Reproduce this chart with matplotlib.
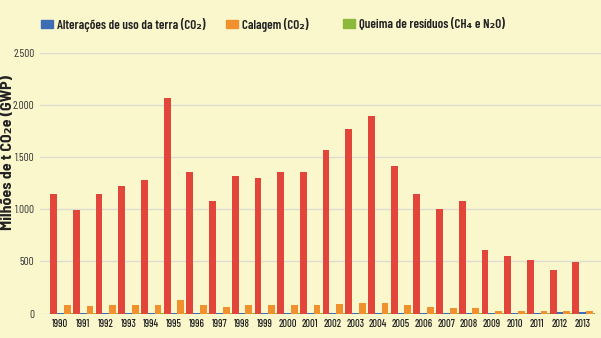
import matplotlib
matplotlib.use("Agg")
import matplotlib.pyplot as plt
from matplotlib.patches import Patch
import numpy as np

years = [str(y) for y in range(1990, 2014)]
# series (million t CO2e)
total = [1150, 995, 1150, 1220, 1280, 2070, 1355, 1075, 1315, 1305, 1355, 1355,
         1565, 1770, 1895, 1415, 1145, 1000, 1075, 605, 555, 515, 420, 495]
uso_terra = [3, 3, 5, 5, 5, 3, 5, 5, 5, 5, 5, 5,
             5, 5, 5, 5, 5, 5, 5, 5, 5, 5, 15, 15]
calagem = [80, 70, 80, 80, 80, 125, 80, 60, 80, 80, 80, 80,
           95, 105, 105, 80, 60, 50, 50, 20, 20, 20, 20, 20]
queima = [2, 2, 2, 2, 2, 2, 2, 2, 2, 2, 2, 2,
          2, 2, 2, 2, 2, 2, 2, 2, 2, 2, 2, 2]

legend_labels = ["Alterações de uso da terra (CO₂)", "Calagem (CO₂)",
                 "Queima de resíduos (CH₄ e N₂O)"]
yticks = [0, 500, 1000, 1500, 2000, 2500]
ytick_labels = ["0", "500", "1.000", "1.500", "2.000", "2.500"]

bg = "#faf7cd"
red = "#e2463b"
blue = "#3d6db5"
orange = "#f0912d"
green = "#8cb93c"
cond = ["Barlow Condensed", "DejaVu Sans"]
semi = ["Barlow Semi Condensed", "DejaVu Sans"]

fig = plt.figure(figsize=(6.01, 3.38), dpi=100, facecolor=bg)
ax = fig.add_axes([40 / 601, 24.5 / 338, 561 / 601, 260.5 / 338])
ax.set_facecolor(bg)

x = np.arange(len(years))
w = 0.3
ax.bar(x - w, total, w, color=red)
ax.bar(x, uso_terra, w, color=blue)
ax.bar(x + w, calagem, w, color=orange)
ax.bar(x + 0.5, queima, 0.1, color=green)

ax.set_xlim(-0.9, 23.81)
ax.set_ylim(0, 2500)
ax.set_yticks(yticks)
ax.set_yticklabels(ytick_labels, family=cond, fontsize=8, color="#333333")
ax.set_xticks(x)
ax.set_xticklabels(years, family=cond, fontsize=7.5, fontweight="medium", color="#222222")
ax.tick_params(length=0, axis="y", pad=4)
ax.tick_params(length=0, axis="x", pad=4)
ax.grid(axis="y", color="#dedbd0", linewidth=1)
ax.set_axisbelow(True)
for s in ax.spines.values():
    s.set_visible(False)

fig.text(8 / 601, 1 - 153 / 338, "Milhões de t CO₂e (GWP)", rotation=90, ha="center", va="center",
         family=semi, fontsize=11.5, fontweight="bold", color="#222222")

# three legend entries placed where the reference has them
for lab, col, xpos in zip(legend_labels, [blue, orange, green], [41, 226, 343]):
    leg = fig.legend(handles=[Patch(color=col, label=lab)], loc="center left",
                     bbox_to_anchor=(xpos / 601, 1 - 24.5 / 338), frameon=False,
                     prop={"family": cond, "size": 9.3, "weight": "semibold"},
                     handlelength=0.9, handleheight=0.65, handletextpad=0.35, borderpad=0,
                     borderaxespad=0)
    leg.get_texts()[0].set_color("#222222")

fig.savefig("out.png", dpi=100, facecolor=bg)
